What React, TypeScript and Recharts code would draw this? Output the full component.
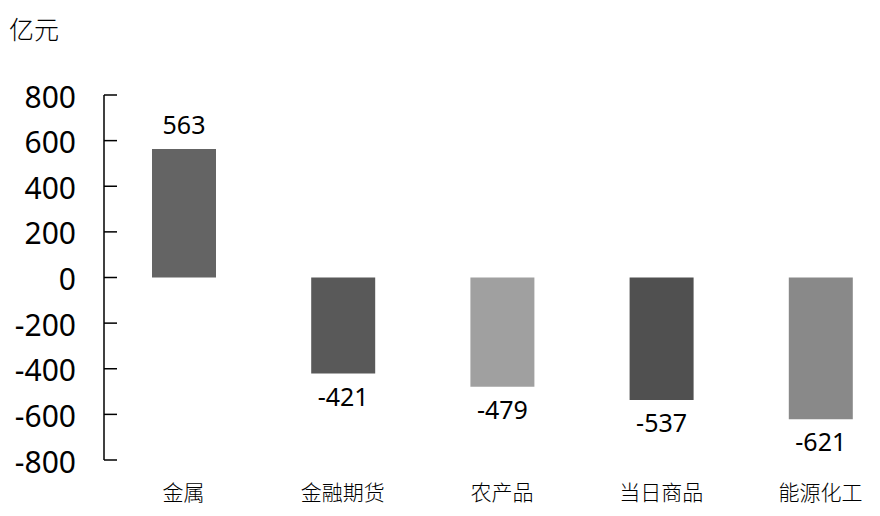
import { BarChart, Bar, XAxis, YAxis, Cell, LabelList } from "recharts"

const categories = ["金属", "金融期货", "农产品", "当日商品", "能源化工"]
const netFlow = [563, -421, -479, -537, -621]
const yTicks = [-800, -600, -400, -200, 0, 200, 400, 600, 800]
const unitLabel = "亿元"

const BAR_COLORS = ["#646464", "#595959", "#a0a0a0", "#505050", "#898989"]

const data = categories.map((name, i) => ({ name, value: netFlow[i] }))

const FONT = "'Noto Sans', 'Noto Sans CJK SC', sans-serif"
const CJK = "'Noto Sans CJK SC', sans-serif"
const AXIS_X = 104
const PLOT_BOTTOM = 460

function YTick({ y, payload }: any) {
  return (
    <g>
      <line x1={AXIS_X} x2={AXIS_X + 13} y1={y} y2={y} stroke="#000" strokeWidth={1.5} />
      <text
        x={AXIS_X - 28}
        y={y + 1}
        textAnchor="end"
        dominantBaseline="central"
        fontSize={30}
        fontFamily={FONT}
        fill="#000"
      >
        {payload.value}
      </text>
    </g>
  )
}

function XTick({ x, payload }: any) {
  return (
    <text
      x={x}
      y={PLOT_BOTTOM + 31}
      textAnchor="middle"
      dominantBaseline="central"
      fontSize={21}
      fontWeight={300}
      fontFamily={CJK}
      fill="#000"
    >
      {payload.value}
    </text>
  )
}

function ValueLabel({ x, y, width, height, value }: any) {
  const top = Math.min(y, y + height)
  const bottom = Math.max(y, y + height)
  const ly = value >= 0 ? top - 25 : bottom + 22
  return (
    <text
      x={x + width / 2}
      y={ly}
      textAnchor="middle"
      dominantBaseline="central"
      fontSize={25}
      fontFamily={FONT}
      fill="#000"
    >
      {value}
    </text>
  )
}

export default function App() {
  return (
    <div
      style={{
        position: "absolute",
        left: 0,
        top: 0,
        width: 880,
        height: 516,
        overflow: "hidden",
        background: "#fff",
      }}
    >
      <div
        style={{
          position: "absolute",
          left: 9,
          top: 10,
          fontSize: 25,
          fontWeight: 300,
          fontFamily: CJK,
          lineHeight: "36px",
          color: "#000",
        }}
      >
        {unitLabel}
      </div>
      <BarChart
        width={900}
        height={516}
        data={data}
        margin={{ top: 95, right: 0, left: 0, bottom: 0 }}
      >
        <XAxis
          dataKey="name"
          axisLine={false}
          tickLine={false}
          tick={<XTick />}
          height={56}
          interval={0}
        />
        <YAxis
          domain={[-800, 800]}
          ticks={yTicks}
          width={AXIS_X}
          axisLine={{ stroke: "#000", strokeWidth: 1.5 }}
          tickLine={false}
          tick={<YTick />}
          interval={0}
        />
        <Bar dataKey="value" barSize={64} isAnimationActive={false}>
          {data.map((d, i) => (
            <Cell key={d.name} fill={BAR_COLORS[i]} />
          ))}
          <LabelList dataKey="value" content={<ValueLabel />} />
        </Bar>
      </BarChart>
    </div>
  )
}
